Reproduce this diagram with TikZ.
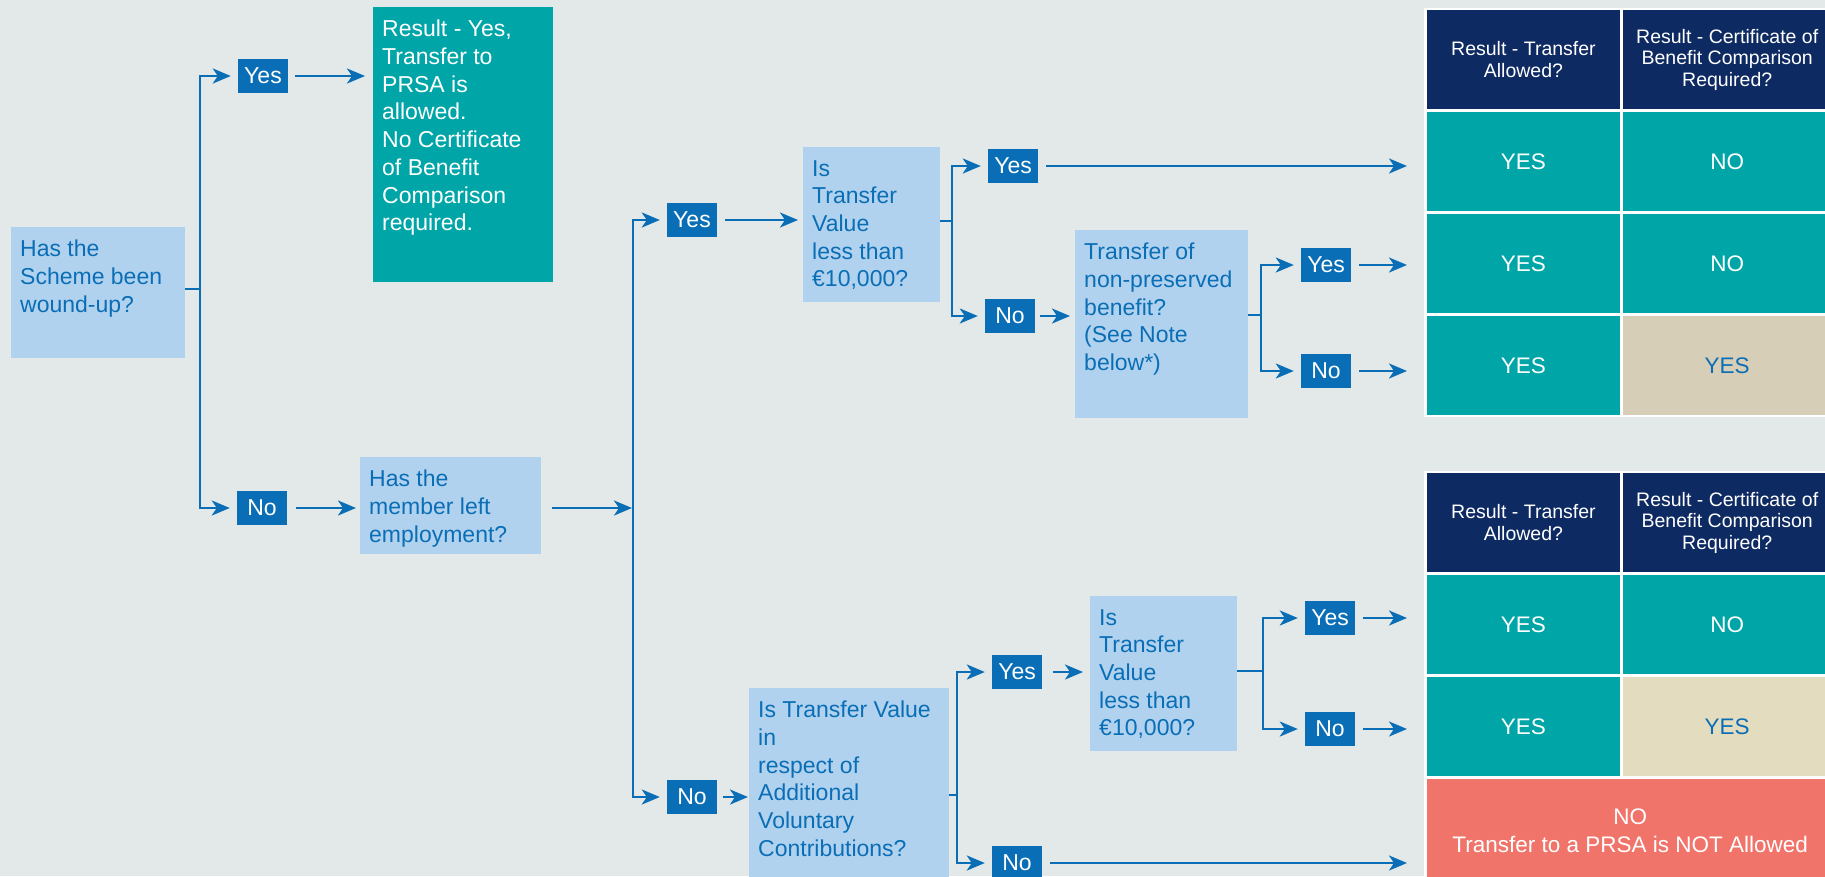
\documentclass[tikz,border=0pt]{standalone}
\usepackage{fontspec}
\setmainfont{Liberation Sans}
\usetikzlibrary{arrows.meta,positioning}

\definecolor{paper}{HTML}{E3E9E9}
\definecolor{askfill}{HTML}{B1D2EE}
\definecolor{linkblue}{HTML}{0A6EB6}
\definecolor{okteal}{HTML}{00A5A8}
\definecolor{headnavy}{HTML}{0E2A62}
\definecolor{sand}{HTML}{D6CEB6}
\definecolor{sandlight}{HTML}{E4DCBE}
\definecolor{stopred}{HTML}{F0746A}

% box of width #1 and height #2 (pt), text set from the top
\newcommand{\asktext}[3]{\parbox[c][\dimexpr#2pt-26pt\relax][t]{\dimexpr#1pt-18pt\relax}{\raggedright #3}}

\begin{document}
\begin{tikzpicture}[x=1pt, y=-1pt, every node/.style={font=\fontsize{23}{27.7}\selectfont}]
\tikzset{
  ask/.style={anchor=north west, fill=askfill, text=linkblue, inner xsep=9pt, inner ysep=13pt},
  tag/.style={fill=linkblue, text=white, inner sep=0pt, minimum width=50pt, minimum height=34pt},
  link/.style={draw=linkblue, line width=2.6pt},
  go/.style={link, -{Stealth[length=18pt,width=15pt,inset=5pt]}, shorten >=7pt},
  lcell/.style={anchor=north west, inner sep=0pt, minimum width=192.5pt, minimum height=99pt, align=center, text=white, font=\fontsize{22.5}{28}\selectfont},
  rcell/.style={lcell, minimum width=209pt},
  head/.style={fill=headnavy, font=\fontsize{19.5}{21.7}\selectfont}
}
\useasboundingbox (0,0) rectangle (1825,876);
\fill[paper] (0,0) rectangle (1825,876);

% questions
\node[ask] (scheme) at (11,227) {\asktext{174}{131}{Has the\\Scheme been\\wound-up?}};
\node[ask, fill=okteal, text=white] (result) at (373,7) {\asktext{180}{275}{Result - Yes,\\Transfer to\\PRSA is\\allowed.\\No Certificate\\of Benefit\\Comparison\\required.}};
\node[ask] (member) at (360,457) {\asktext{181}{97}{Has the\\member left\\employment?}};
\node[ask] (istv1) at (803,147) {\asktext{137}{155}{Is\\Transfer\\Value\\less than\\€10,000?}};
\node[ask] (nonpres) at (1075,230) {\asktext{173}{188}{Transfer of\\non-preserved\\benefit?\\(See Note\\below*)}};
\node[ask] (avc) at (749,688) {\asktext{200}{190}{Is Transfer Value\\in\\respect of\\Additional\\Voluntary\\Contributions?}};
\node[ask] (istv2) at (1090,596) {\asktext{147}{155}{Is\\Transfer\\Value\\less than\\€10,000?}};

% answers
\node[tag] (yes1) at (263,76) {Yes};
\node[tag] (no1) at (262,508) {No};
\node[tag] (yes2) at (692,220) {Yes};
\node[tag] (no2) at (692,797) {No};
\node[tag] (yes3) at (1013,166) {Yes};
\node[tag] (no3) at (1010,316) {No};
\node[tag] (yes4) at (1326,265) {Yes};
\node[tag] (no4) at (1326,371) {No};
\node[tag] (yes5) at (1017,672) {Yes};
\node[tag] (no5) at (1017,863) {No};
\node[tag] (yes6) at (1330,618) {Yes};
\node[tag] (no6) at (1330,729) {No};

% result tables
\node[fill=white, anchor=north west, inner sep=0pt, minimum width=420pt, minimum height=409.5pt] (tab1) at (1424,7.5) {};
\node[lcell, head] (t1h1) at (1427,10) {Result - Transfer\\Allowed?};
\node[rcell, head] (t1h2) at (1622.5,10) {Result - Certificate of\\Benefit Comparison\\Required?};
\node[lcell, fill=okteal] (t1a1) at (1427,112) {YES};
\node[rcell, fill=okteal] (t1a2) at (1622.5,112) {NO};
\node[lcell, fill=okteal] (t1b1) at (1427,214) {YES};
\node[rcell, fill=okteal] (t1b2) at (1622.5,214) {NO};
\node[lcell, fill=okteal] (t1c1) at (1427,316) {YES};
\node[rcell, fill=sand, text=linkblue] (t1c2) at (1622.5,316) {YES};

\node[fill=white, anchor=north west, inner sep=0pt, minimum width=420pt, minimum height=420pt] (tab2) at (1424,470.5) {};
\node[lcell, head] (t2h1) at (1427,473) {Result - Transfer\\Allowed?};
\node[rcell, head] (t2h2) at (1622.5,473) {Result - Certificate of\\Benefit Comparison\\Required?};
\node[lcell, fill=okteal] (t2a1) at (1427,575) {YES};
\node[rcell, fill=okteal] (t2a2) at (1622.5,575) {NO};
\node[lcell, fill=okteal] (t2b1) at (1427,677) {YES};
\node[rcell, fill=sandlight, text=linkblue] (t2b2) at (1622.5,677) {YES};
\node[lcell, fill=stopred, minimum width=406pt, minimum height=104pt] (t2c) at (1427,779) {NO\\Transfer to a PRSA is NOT Allowed};

% splits
\coordinate (j1) at (200,289);
\coordinate (j2) at (633,508);
\coordinate (j3) at (952,221);
\coordinate (j4) at (1261,315);
\coordinate (j5) at (957,795);
\coordinate (j6) at (1263,671);

\draw[link] (scheme.east |- j1) -- (j1);
\draw[go] (j1) |- (yes1);
\draw[go] (j1) |- (no1);
\draw[go, shorten <=7pt, shorten >=8pt] (yes1.east) -- (yes1.east -| result.west);
\draw[go, shorten <=9pt, shorten >=4pt] (no1.east) -- (no1.east -| member.west);

\draw[go, shorten <=11pt, shorten >=1pt] (member.east |- j2) -- (j2);
\draw[go] (j2) |- (yes2);
\draw[go] (j2) |- (no2);
\draw[go, shorten <=8pt, shorten >=5pt] (yes2.east) -- (yes2.east -| istv1.west);
\draw[go, shorten <=6pt, shorten >=1pt] (no2.east) -- (no2.east -| avc.west);

\draw[link] (istv1.east |- j3) -- (j3);
\draw[go] (j3) |- (yes3);
\draw[go] (j3) |- (no3);
\draw[go, shorten <=8pt, shorten >=20pt] (yes3.east) -- (yes3.east -| t1a1.west);
\draw[go, shorten <=5pt, shorten >=5pt] (no3.east) -- (no3.east -| nonpres.west);

\draw[link] (nonpres.east |- j4) -- (j4);
\draw[go] (j4) |- (yes4);
\draw[go] (j4) |- (no4);
\draw[go, shorten <=8pt, shorten >=20pt] (yes4.east) -- (yes4.east -| t1b1.west);
\draw[go, shorten <=8pt, shorten >=20pt] (no4.east) -- (no4.east -| t1c1.west);

\draw[link] (avc.east |- j5) -- (j5);
\draw[go] (j5) |- (yes5);
\draw[go] (j5) |- (no5);
\draw[go, shorten <=11pt, shorten >=7pt] (yes5.east) -- (yes5.east -| istv2.west);
\draw[go, shorten <=8pt, shorten >=20pt] (no5.east) -- (no5.east -| t2c.west);

\draw[link] (istv2.east |- j6) -- (j6);
\draw[go] (j6) |- (yes6);
\draw[go] (j6) |- (no6);
\draw[go, shorten <=8pt, shorten >=20pt] (yes6.east) -- (yes6.east -| t2a1.west);
\draw[go, shorten <=8pt, shorten >=20pt] (no6.east) -- (no6.east -| t2b1.west);
\end{tikzpicture}
\end{document}
